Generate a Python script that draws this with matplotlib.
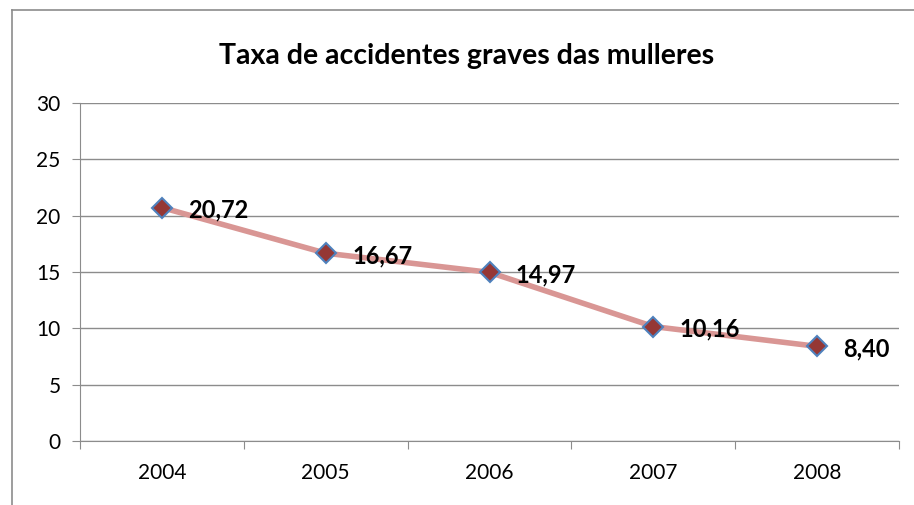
import matplotlib.pyplot as plt
from matplotlib.lines import Line2D

# data
years = ["2004", "2005", "2006", "2007", "2008"]
taxa = [20.72, 16.67, 14.97, 10.16, 8.40]
labels = ["20,72", "16,67", "14,97", "10,16", "8,40"]

plt.rcParams['font.family'] = ['Lato', 'DejaVu Sans']

fig = plt.figure(figsize=(9.14, 5.05), dpi=100)
ax = fig.add_axes([80 / 914, 1 - 441 / 505, 819 / 914, 338 / 505])

x = list(range(len(years)))
ax.plot(x, taxa, color='#d99694', lw=4, zorder=2, solid_capstyle='round')
ax.plot(x, taxa, ls='none', marker='D', ms=10, mfc='#953735', mec='#4f81bd',
        mew=1.5, zorder=3)

for xi, yi, lab in zip(x, taxa, labels):
    ax.annotate(lab, (xi, yi), xytext=(19, -2), textcoords='offset points',
                ha='left', va='center', fontsize=17, fontweight='bold')

ax.set_xlim(-0.5, len(years) - 0.5)
ax.set_ylim(0, 30)
ax.set_yticks(range(0, 31, 5))
ax.yaxis.grid(True, color='#8c8c8c', lw=1)
ax.set_axisbelow(True)

# category ticks between the labels
ax.set_xticks([i - 0.5 for i in range(len(years) + 1)])
ax.set_xticklabels([])
ax.set_xticks(x, minor=True)
ax.set_xticklabels(years, minor=True)
ax.tick_params(axis='x', which='major', length=6, color='#8c8c8c', direction='out')
ax.tick_params(axis='x', which='minor', length=0, pad=16, labelsize=15)
ax.tick_params(axis='y', length=6, color='#8c8c8c', labelsize=15, pad=8)

for s in ['top', 'right']:
    ax.spines[s].set_visible(False)
for s in ['left', 'bottom']:
    ax.spines[s].set_color('#8c8c8c')

fig.text(467 / 914, 1 - 56 / 505, "Taxa de accidentes graves das mulleres",
         ha='center', va='center', fontsize=20.5, fontweight='bold')

# outer chart frame (only left and top visible)
fig.add_artist(Line2D([12 / 914, 12 / 914], [0, 1 - 10 / 505], color='#8c8c8c', lw=1.2))
fig.add_artist(Line2D([12 / 914, 1], [1 - 10 / 505, 1 - 10 / 505], color='#8c8c8c', lw=1.2))

fig.savefig('out.png', dpi=100)
